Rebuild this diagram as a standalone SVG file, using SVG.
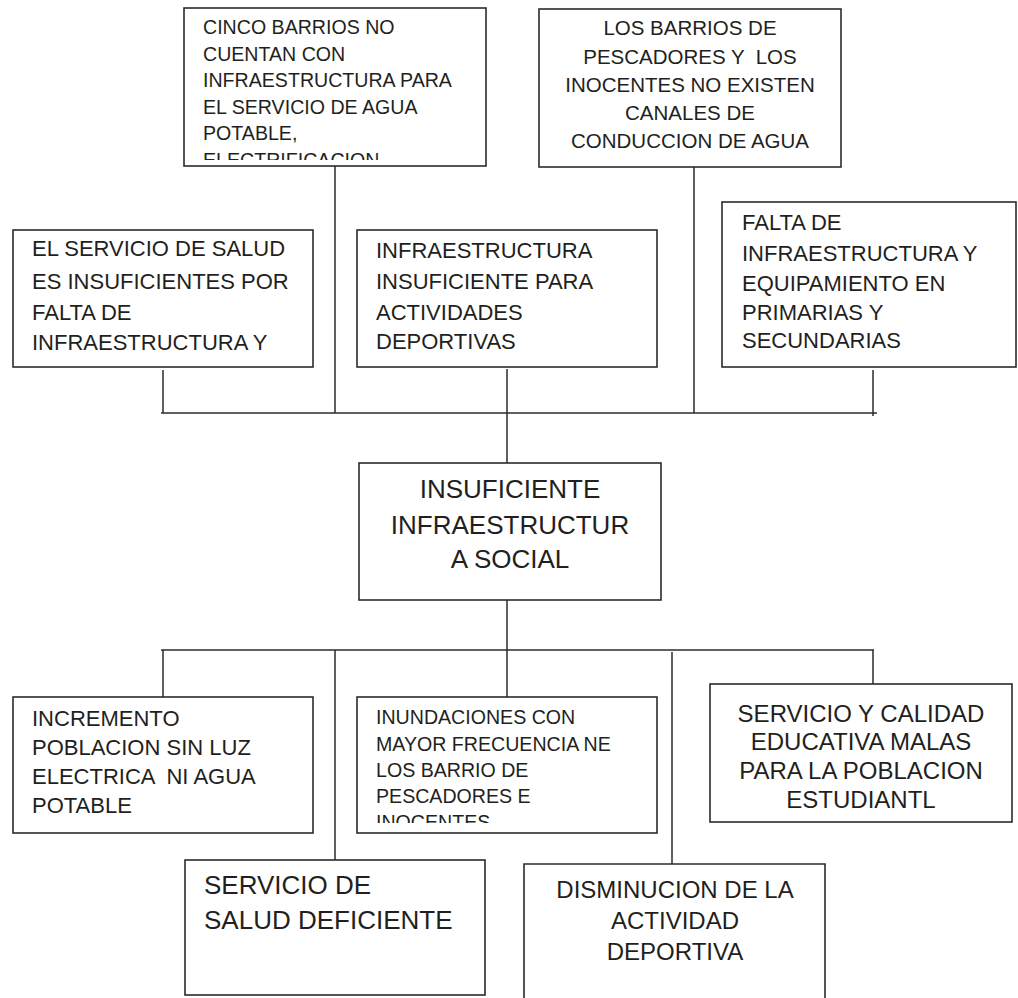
<svg xmlns="http://www.w3.org/2000/svg" width="1018" height="998" viewBox="0 0 1018 998">
<defs>
<style>
.box{fill:#ffffff;stroke:#2b2b2b;stroke-width:1.6}
.ln{fill:none;stroke:#2b2b2b;stroke-width:1.5}
text{font-family:"Liberation Sans",Arial,sans-serif;fill:#231f20;white-space:pre}
.s19{font-size:19.6px}
.s20{font-size:20.5px}
.s22{font-size:22px}
.s24{font-size:24px}
.s26{font-size:26px}
.mid{text-anchor:middle}
</style>
<clipPath id="c1"><rect x="184" y="8" width="302" height="152"/></clipPath>
<clipPath id="c7"><rect x="357" y="697" width="300" height="126"/></clipPath>
</defs>
<rect width="1018" height="998" fill="#ffffff"/>
<g id="connectors">
<line class="ln" x1="161" y1="413" x2="877" y2="413"/>
<line class="ln" x1="163" y1="370" x2="163" y2="413"/>
<line class="ln" x1="335" y1="166" x2="335" y2="413"/>
<line class="ln" x1="507" y1="369" x2="507" y2="463"/>
<line class="ln" x1="694" y1="167" x2="694" y2="413"/>
<line class="ln" x1="873" y1="370" x2="873" y2="416"/>
<line class="ln" x1="507" y1="600" x2="507" y2="650"/>
<line class="ln" x1="161" y1="650" x2="874" y2="650"/>
<line class="ln" x1="163" y1="650" x2="163" y2="697"/>
<line class="ln" x1="335" y1="650" x2="335" y2="860"/>
<line class="ln" x1="507" y1="650" x2="507" y2="697"/>
<line class="ln" x1="672" y1="652" x2="672" y2="864"/>
<line class="ln" x1="873" y1="650" x2="873" y2="695"/>
</g>
<g id="n1">
<rect class="box" x="184" y="8" width="302" height="158"/>
<g clip-path="url(#c1)">
<text class="s19" x="203" y="34">CINCO BARRIOS NO</text>
<text class="s19" x="203" y="60.5">CUENTAN CON</text>
<text class="s19" x="203" y="87">INFRAESTRUCTURA PARA</text>
<text class="s19" x="203" y="113.5">EL SERVICIO DE AGUA</text>
<text class="s19" x="203" y="140">POTABLE,</text>
<text class="s19" x="203" y="166.5">ELECTRIFICACION</text>
</g>
</g>
<g id="n2">
<rect class="box" x="539" y="9" width="302" height="158"/>
<text class="s20 mid" x="690" y="35">LOS BARRIOS DE</text>
<text class="s20 mid" x="690" y="64">PESCADORES Y  LOS</text>
<text class="s20 mid" x="690" y="92">INOCENTES NO EXISTEN</text>
<text class="s20 mid" x="690" y="120">CANALES DE</text>
<text class="s20 mid" x="690" y="148">CONDUCCION DE AGUA</text>
</g>
<g id="n3">
<rect class="box" x="13" y="230" width="300" height="137"/>
<text class="s22" x="32" y="256">EL SERVICIO DE SALUD</text>
<text class="s22" x="32" y="288.5">ES INSUFICIENTES POR</text>
<text class="s22" x="32" y="319.5">FALTA DE</text>
<text class="s22" x="32" y="350">INFRAESTRUCTURA Y</text>
</g>
<g id="n4">
<rect class="box" x="357" y="230" width="300" height="137"/>
<text class="s22" x="376" y="258">INFRAESTRUCTURA</text>
<text class="s22" x="376" y="289">INSUFICIENTE PARA</text>
<text class="s22" x="376" y="319.5">ACTIVIDADES</text>
<text class="s22" x="376" y="349">DEPORTIVAS</text>
</g>
<g id="n5">
<rect class="box" x="722" y="202" width="294" height="165"/>
<text class="s22" x="742" y="230">FALTA DE</text>
<text class="s22" x="742" y="261">INFRAESTRUCTURA Y</text>
<text class="s22" x="742" y="291">EQUIPAMIENTO EN</text>
<text class="s22" x="742" y="320">PRIMARIAS Y</text>
<text class="s22" x="742" y="348">SECUNDARIAS</text>
</g>
<g id="n6">
<rect class="box" x="359" y="463" width="302" height="137"/>
<text class="s26 mid" x="510" y="498">INSUFICIENTE</text>
<text class="s26 mid" x="510" y="534">INFRAESTRUCTUR</text>
<text class="s26 mid" x="510" y="568">A SOCIAL</text>
</g>
<g id="n7">
<rect class="box" x="13" y="697" width="300" height="136"/>
<text class="s22" x="32" y="726">INCREMENTO</text>
<text class="s22" x="32" y="755">POBLACION SIN LUZ</text>
<text class="s22" x="32" y="784">ELECTRICA  NI AGUA</text>
<text class="s22" x="32" y="813">POTABLE</text>
</g>
<g id="n8">
<rect class="box" x="357" y="697" width="300" height="136"/>
<g clip-path="url(#c7)">
<text class="s19" x="376" y="724">INUNDACIONES CON</text>
<text class="s19" x="376" y="751">MAYOR FRECUENCIA NE</text>
<text class="s19" x="376" y="777">LOS BARRIO DE</text>
<text class="s19" x="376" y="803">PESCADORES E</text>
<text class="s19" x="376" y="829">INOCENTES</text>
</g>
</g>
<g id="n9">
<rect class="box" x="710" y="684" width="302" height="138"/>
<text class="s24 mid" x="861" y="722">SERVICIO Y CALIDAD</text>
<text class="s24 mid" x="861" y="750">EDUCATIVA MALAS</text>
<text class="s24 mid" x="861" y="779">PARA LA POBLACION</text>
<text class="s24 mid" x="861" y="808">ESTUDIANTL</text>
</g>
<g id="n10">
<rect class="box" x="185" y="860" width="300" height="135"/>
<text class="s26" x="204" y="894">SERVICIO DE</text>
<text class="s26" x="204" y="929">SALUD DEFICIENTE</text>
</g>
<g id="n11">
<path class="box" d="M524 999 V864 H825 V999"/>
<text class="s24 mid" x="675" y="898">DISMINUCION DE LA</text>
<text class="s24 mid" x="675" y="929">ACTIVIDAD</text>
<text class="s24 mid" x="675" y="960">DEPORTIVA</text>
</g>
</svg>
